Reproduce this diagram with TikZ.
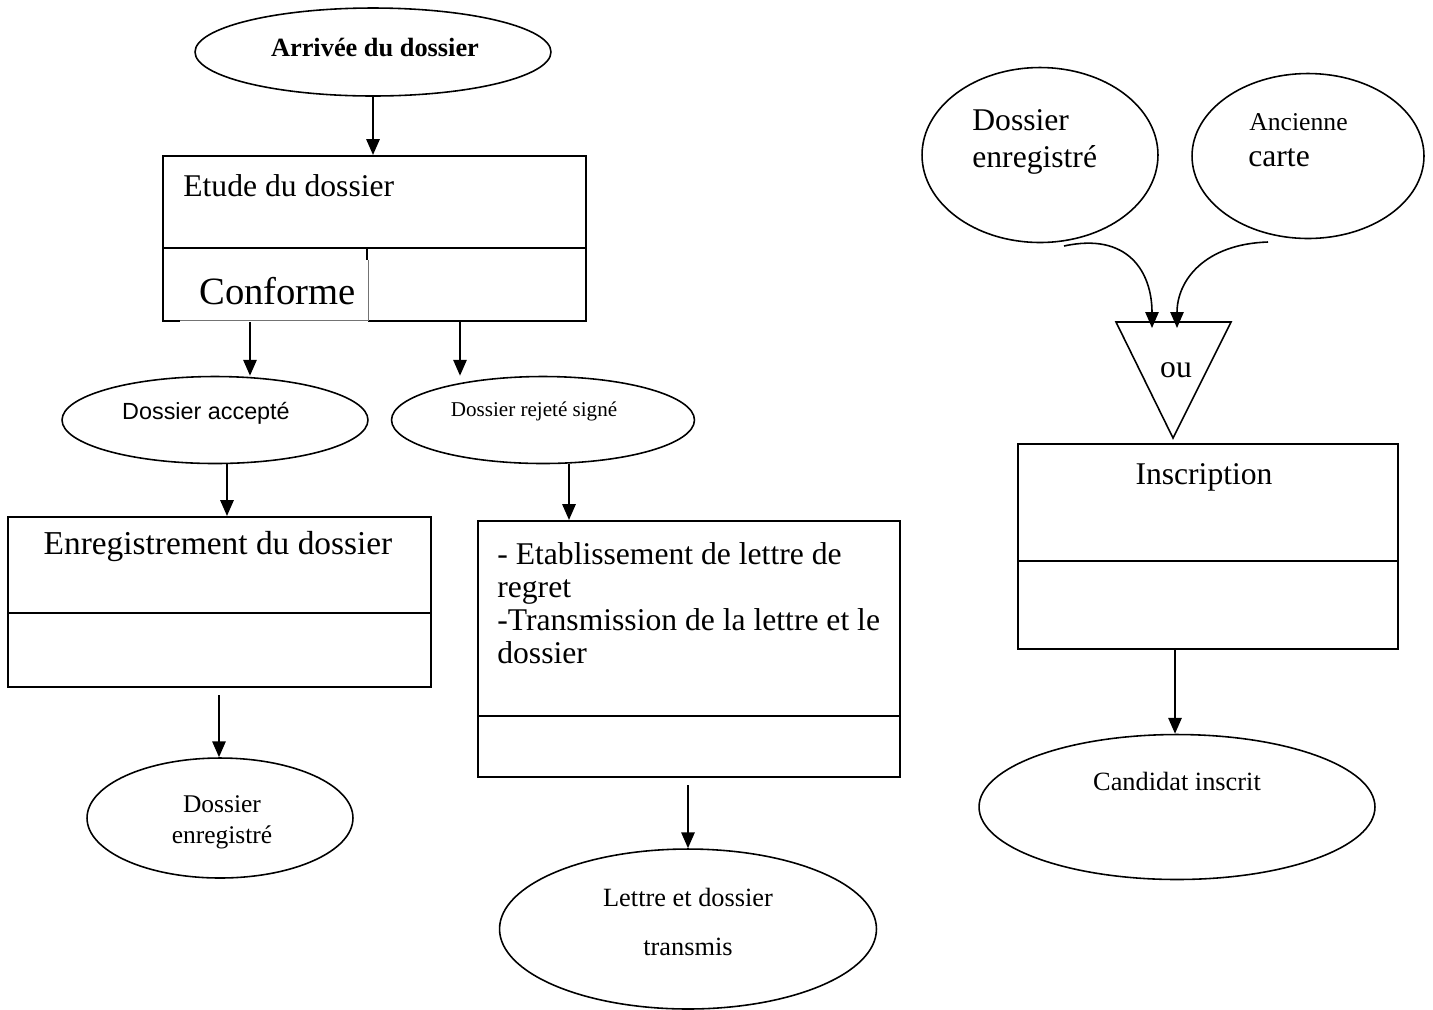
\documentclass[tikz,border=0pt]{standalone}
\usepackage{fontspec}
\setmainfont{Liberation Serif}
\setsansfont{Liberation Sans}
\usetikzlibrary{shapes.geometric,arrows.meta}
\newcommand\fsz[2]{\fontsize{#1}{#2}\selectfont}
\tikzset{
  ln/.style={line width=1.2pt},
  arr/.style={line width=1.2pt,-{Triangle[length=9pt,width=7.5pt]}},
  oval/.style={draw,ellipse,line width=0.9pt,inner sep=0pt},
  card/.style={draw,rectangle,line width=1.2pt,inner sep=0pt,anchor=north west},
  txt/.style={inner sep=0pt}}

\begin{document}
\begin{tikzpicture}[x=0.02cm,y=-0.02cm]
\useasboundingbox (0,0) rectangle (1433,1009);

% ---------- left column: study of the file ----------
\node[oval,minimum width=7.12cm,minimum height=1.76cm] (arrivee) at (373,52) {};
\node[txt,font=\fsz{15}{18}\bfseries] (tarrivee) at (375,47) {Arrivée du dossier};

\node[card,minimum width=8.46cm,minimum height=3.3cm] (etude) at (162,155) {};
\draw[ln] (162,248) -- (585,248);
\node[txt,anchor=west,font=\fsz{18}{21}] (tetude) at (183,186) {Etude du dossier};

% white label box carrying "Conforme"
\fill[white] (180,250) rectangle (368,322);
\draw[black!55,line width=0.5pt] (180,320) -- (368,320) -- (368,260);
\draw[line width=1.2pt] (367,249) -- (367,260);
\node[txt,anchor=west,font=\fsz{22}{26}] (tconf) at (199,291) {Conforme};

\node[oval,minimum width=6.12cm,minimum height=1.74cm] (acc) at (215,420) {};
\node[txt,font=\sffamily\fsz{13.3}{16}] (tacc) at (206,413) {Dossier accepté};

\node[oval,minimum width=6.06cm,minimum height=1.74cm] (rej) at (543,420) {};
\node[txt,font=\fsz{12}{14}] (trej) at (534,411) {Dossier rejeté signé};

\node[card,minimum width=8.46cm,minimum height=3.4cm] (enr) at (7,516) {};
\draw[ln] (7,613) -- (430,613);
\node[txt,font=\fsz{19}{22}] (tenr) at (218,547) {Enregistrement du dossier};

\node[card,minimum width=8.44cm,minimum height=5.12cm] (etab) at (477,520) {};
\draw[ln] (477,716) -- (899,716);
\node[txt,anchor=west,align=left,font=\fsz{18}{18.8}] (tetab) at (497,603)
  {- Etablissement de lettre de\\regret\\-Transmission de la lettre et le\\dossier};

\node[oval,minimum width=5.32cm,minimum height=2.4cm] (den) at (220,818) {};
\node[txt,align=center,font=\fsz{14.5}{17.6}] (tden) at (222,822) {Dossier\\enregistré};

\node[oval,minimum width=7.54cm,minimum height=3.2cm] (lettre) at (688,929) {};
\node[txt,align=center,font=\fsz{15}{27.8}] (tlettre) at (688,922) {Lettre et dossier\\transmis};

% ---------- left column connectors ----------
\coordinate (xa) at (250,0);
\coordinate (xb) at (460,0);
\coordinate (xc) at (227,0);
\coordinate (xd) at (569,0);
\coordinate (e1) at (219,695);
\coordinate (e2) at (688,785);
\draw[arr] (arrivee.south) -- (arrivee.south |- etude.north);
\draw[arr] (etude.south -| xa) -- (acc.north -| xa);
\draw[arr] (etude.south -| xb) -- (rej.north -| xb);
\draw[arr] (acc.south -| xc) -- (enr.north -| xc);
\draw[arr] (rej.south -| xd) -- (etab.north -| xd);
\draw[arr] (e1) -- (den.north -| e1);
\draw[arr] (e2) -- (lettre.north);

% ---------- right column: registration ----------
\node[oval,minimum width=4.72cm,minimum height=3.5cm] (rde) at (1040,155) {};
\node[txt,anchor=west,align=left,font=\fsz{18}{21}] (trde) at (972,142) {Dossier\\enregistré};

\node[oval,minimum width=4.64cm,minimum height=3.3cm] (anc) at (1308,156) {};
\node[txt,anchor=west,font=\fsz{14.6}{17}] (tanc) at (1249,122) {Ancienne};
\node[txt,anchor=west,font=\fsz{18}{21}] (tcarte) at (1248,158) {carte};

\draw[line width=0.9pt] (1116,322) -- (1231,322) -- (1173,438) -- cycle;
\node[txt,font=\fsz{18}{21}] (tou) at (1176,370) {ou};
\coordinate (ou1) at (1152,328);
\coordinate (ou2) at (1177,328);
\coordinate (c1) at (1064,246);
\coordinate (c2) at (1268,242);
\draw[arr,line width=0.9pt] (c1) .. controls (1128,232) and (1152,272) .. (ou1);
\draw[arr,line width=0.9pt] (c2) .. controls (1205,244) and (1177,280) .. (ou2);

\node[card,minimum width=7.6cm,minimum height=4.1cm] (insc) at (1017,443) {};
\draw[ln] (1017,561) -- (1397,561);
\node[txt,font=\fsz{18}{21}] (tinsc) at (1204,477) {Inscription};

\node[oval,minimum width=7.92cm,minimum height=2.9cm] (cand) at (1177,807) {};
\node[txt,font=\fsz{15}{18}] (tcand) at (1177,781) {Candidat inscrit};

\coordinate (xe) at (1175,0);
\draw[arr] (insc.south -| xe) -- (cand.north -| xe);
\end{tikzpicture}
\end{document}
